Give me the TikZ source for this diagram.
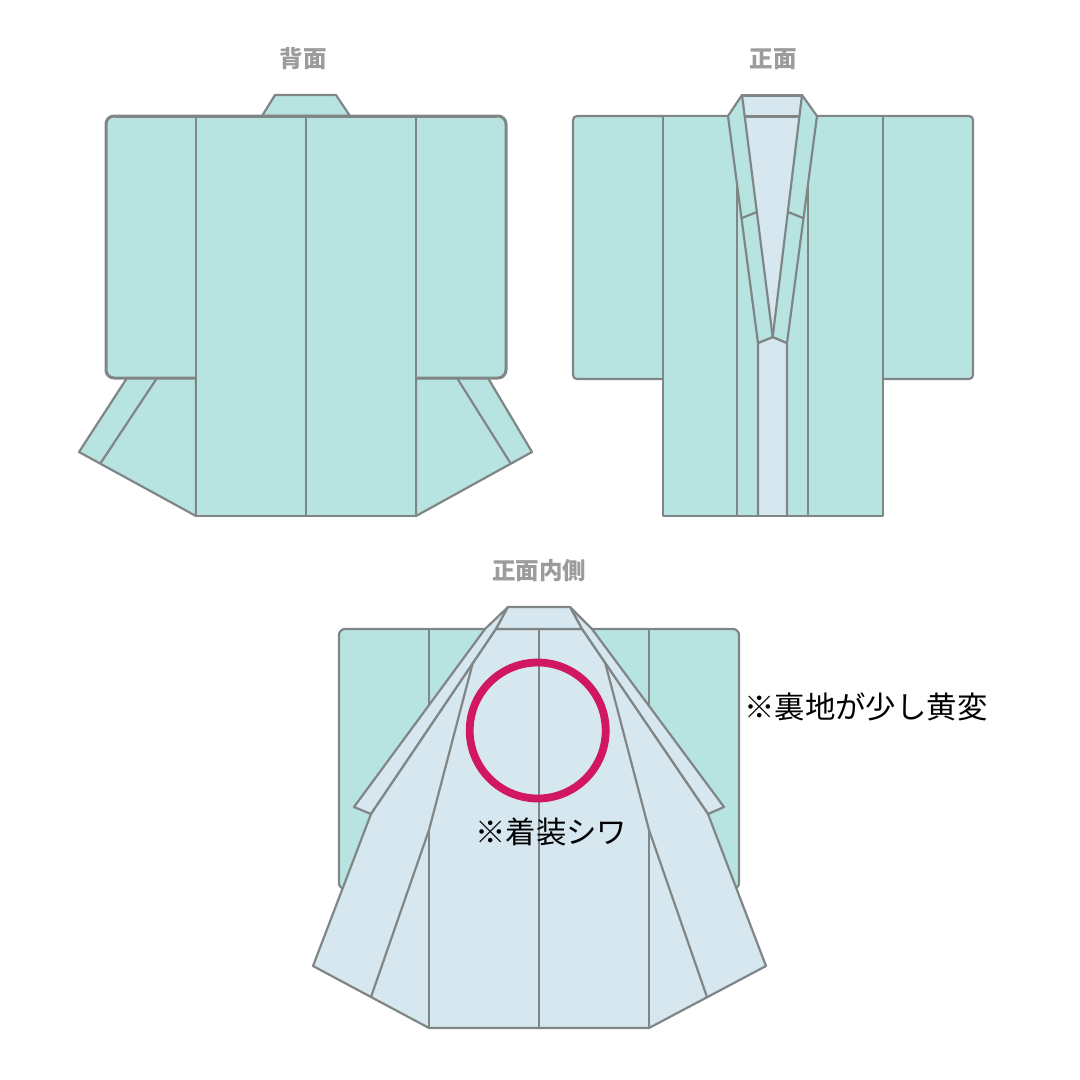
\documentclass[tikz,border=0pt]{standalone}
\usepackage{fontspec}
\newfontfamily\cjk{Noto Sans CJK JP}
\definecolor{kimono}{HTML}{B7E3E1}
\definecolor{lining}{HTML}{D6E7EF}
\definecolor{seam}{HTML}{808686}
\definecolor{titlegrey}{HTML}{9C9C9C}
\definecolor{ringred}{HTML}{D0175F}
\tikzset{
  panel/.style={draw=seam,fill=kimono,line width=2.2pt,line join=round},
  liner/.style={draw=seam,fill=lining,line width=2.2pt,line join=round},
  seamline/.style={draw=seam,line width=2.2pt},
  heavy/.style={line width=3pt},
  viewtitle/.style={text=titlegrey,font=\cjk\bfseries\fontsize{23.5}{24}\selectfont,inner sep=0pt},
  remark/.style={text=black,font=\cjk\fontsize{30.4}{31}\selectfont,inner sep=0pt,anchor=west}
}
\begin{document}
\begin{tikzpicture}[x=1pt,y=-1pt]
\useasboundingbox (0,0) rectangle (1080,1080);

% Back view
\path[panel] (262,116) -- (275,95) -- (336,95) -- (350,116) -- cycle;
\path[panel] (196,378) -- (127,378) -- (79,452) -- (196,516) -- cycle;
\path[panel] (416,378) -- (488,378) -- (532,452) -- (416,516) -- cycle;
\path[seamline] (157,378) -- (100,464);
\path[seamline] (457,378) -- (511,464);
\path[panel,heavy,rounded corners=8pt] (106,116) rectangle (506,378);
\path[panel] (196,116) rectangle (416,516);
\path[seamline] (306,116) -- (306,516);
\path[seamline,heavy] (116,116) -- (496,116);
\node[viewtitle] (backtitle) at (303,59) {背面};

% Front view
\path[panel,rounded corners=4pt] (573,116) rectangle (973,379);
\path[panel] (663,116) rectangle (883,516);
\fill[kimono] (700,117.5) rectangle (850,200);
\path[seamline] (737.2,187) -- (737.2,516);
\path[seamline] (807.8,187) -- (807.8,516);
\path[liner] (758,516) -- (758,343) -- (772.7,337) -- (787,343) -- (787,516);
\fill[lining] (742,95) -- (802,95) -- (772.7,337) -- cycle;
\path[panel] (728,116) -- (742,95) -- (772.7,337) -- (758,343) -- cycle;
\path[panel] (817,116) -- (802,95) -- (772.7,337) -- (787,343) -- cycle;
\path[seamline,heavy] (744.7,116) -- (799.6,116);
\path[seamline,heavy] (742,95) -- (802,95);
\path[seamline] (742,218) -- (757,212);
\path[seamline] (788,212) -- (803,218);
\path[seamline] (663,516) -- (883,516);
\node[viewtitle] (fronttitle) at (773,59) {正面};

% Inside view
\path[panel,rounded corners=6pt] (339,629) rectangle (739,889);
\path[seamline] (429,629) -- (429,720);
\path[seamline] (649,629) -- (649,720);
\path[liner] (508,607) -- (485,629) -- (354,807) -- (371,814) -- (496,629) -- cycle;
\path[liner] (570,607) -- (592,629) -- (724,807) -- (708,814) -- (582,629) -- cycle;
\path[liner] (496,629) -- (371,814) -- (313,966) -- (429,1028) -- (649,1028)
  -- (766,966) -- (708,814) -- (582,629) -- cycle;
\path[seamline] (473,662) -- (429,830) -- (371,997);
\path[seamline] (605,662) -- (649,830) -- (707,997);
\path[seamline] (429,830) -- (429,1028);
\path[seamline] (649,830) -- (649,1028);
\path[seamline] (539,629) -- (539,1028);
\path[liner] (508,607) -- (570,607) -- (582,629) -- (496,629) -- cycle;
\draw[ringred,line width=7.8pt] (537.7,730.5) circle[radius=68pt];
\node[viewtitle] (insidetitle) at (539,571) {正面内側};
\node[remark] (liningnote) at (744,707) {※裏地が少し黄変};
\node[remark] (creasenote) at (475,832) {※着装シワ};
\end{tikzpicture}
\end{document}
